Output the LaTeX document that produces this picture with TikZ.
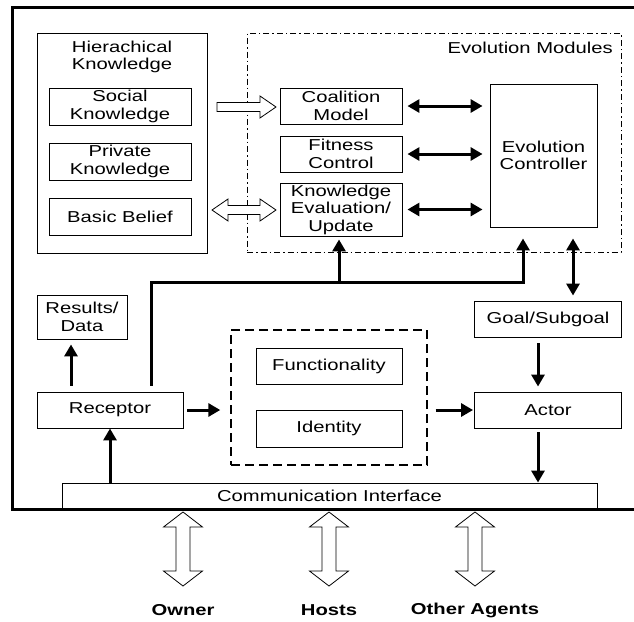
\documentclass[tikz,border=0pt]{standalone}
\usepackage{fontspec}
\setmainfont{Liberation Sans}[FakeStretch=1.28]
\usetikzlibrary{arrows.meta,calc}
\begin{document}
\begin{tikzpicture}[x=1pt,y=-1pt,
  every node/.style={font=\fontsize{15.8}{17.5}\selectfont, align=center, inner sep=0pt},
  box/.style={draw, line width=0.9pt, rectangle},
  thk/.style={line width=3pt},
  tip/.style={-{Triangle[length=12pt,width=13pt]}},
  dtip/.style={{Triangle[length=12pt,width=13pt]}-{Triangle[length=12pt,width=13pt]}},
  hollow/.style={draw, fill=white, line width=0.8pt, line join=miter},
  evobox/.style={draw, line width=0.8pt, dash pattern=on 6pt off 3pt on 1.5pt off 3pt},
  grpbox/.style={draw, line width=1.4pt, dash pattern=on 9pt off 5pt},
  lbl/.style={font=\fontsize{15.8}{17.5}\selectfont\bfseries}
]
\useasboundingbox (0,0) rectangle (634,621);
\fill[white] (0,0) rectangle (634,621);

% containers
\node[box, minimum width=170pt, minimum height=220pt] (hk) at (122,143) {};
\node (hklabel) at (122,57) {Hierachical\\Knowledge};
\node[evobox, minimum width=374pt, minimum height=219pt] (evo) at (434,142.5) {};
\node[anchor=east] (evolabel) at (613,48) {Evolution Modules};
\node[grpbox, minimum width=196pt, minimum height=135pt] (grp) at (329,397.5) {};

% knowledge boxes
\node[box, minimum width=142pt, minimum height=37pt] (social) at (120,106.5) {Social\\Knowledge};
\node[box, minimum width=142pt, minimum height=37pt] (private) at (120,161.5) {Private\\Knowledge};
\node[box, minimum width=142pt, minimum height=37pt] (basic) at (120,216.5) {Basic Belief};

% evolution modules
\node[box, minimum width=122pt, minimum height=36pt] (coal) at (341,106) {Coalition\\Model};
\node[box, minimum width=122pt, minimum height=36pt] (fit) at (341,154) {Fitness\\Control};
\node[box, minimum width=122pt, minimum height=53pt] (ke) at (341,209.5) {Knowledge\\Evaluation/\\Update};
\node[box, minimum width=107pt, minimum height=143pt] (ctrl) at (543.5,155.5) {Evolution\\Controller};

% lower part
\node[box, minimum width=90pt, minimum height=44pt] (results) at (82,317) {Results/\\Data};
\node[box, minimum width=146pt, minimum height=36pt] (receptor) at (110,410) {Receptor};
\node[box, minimum width=146pt, minimum height=36pt] (func) at (329,366) {Functionality};
\node[box, minimum width=146pt, minimum height=37pt] (ident) at (329,428.5) {Identity};
\node[box, minimum width=147pt, minimum height=36pt] (goal) at (548,319) {Goal/Subgoal};
\node[box, minimum width=147pt, minimum height=36pt] (actor) at (548,410) {Actor};
\node[box, minimum width=535pt, minimum height=26.5pt] (comm) at (329.5,496.25) {Communication Interface};

% outer frame
\draw[line width=3pt] (634,7.5) -- (12,7.5) -- (12,509.5) -- (634,509.5);

% helper coordinates
\coordinate (bus) at (0,282);
\coordinate (c71) at (71,0);
\coordinate (c151) at (151,0);
\coordinate (c339) at (339,0);
\coordinate (c523) at (523,0);
\coordinate (c538) at (538,0);
\coordinate (c573) at (573,0);

% module <-> controller arrows
\draw[thk,dtip,shorten <=5pt,shorten >=7pt] (coal.east) -- (coal.east -| ctrl.west);
\draw[thk,dtip,shorten <=5pt,shorten >=7pt] (fit.east) -- (fit.east -| ctrl.west);
\draw[thk,dtip,shorten <=5pt,shorten >=7pt] (ke.east) -- (ke.east -| ctrl.west);

% receptor bus to evolution modules
\draw[thk,tip,shorten <=6pt,shorten >=11pt] (receptor.north -| c151) -- (bus -| c151) -| (ctrl.south -| c523);
\draw[thk,tip,shorten >=3pt] (bus -| c339) -- (ke.south -| c339);

% controller <-> goal
\draw[thk,dtip,shorten <=11pt,shorten >=5pt] (ctrl.south -| c573) -- (goal.north -| c573);

% other black arrows
\draw[thk,tip,shorten <=6pt,shorten >=5pt] (receptor.north -| c71) -- (results.south -| c71);
\draw[thk,tip,shorten <=4pt,shorten >=10pt] (receptor.east) -- (receptor.east -| grp.west);
\draw[thk,tip,shorten <=8pt,shorten >=1pt] (grp.east |- actor.west) -- (actor.west);
\draw[thk,tip,shorten <=6pt,shorten >=5pt] (goal.south -| c538) -- (actor.north -| c538);
\draw[thk,tip,shorten <=4pt] (actor.south -| c538) -- (comm.north -| c538);
\draw[thk,tip] (comm.north -| receptor) -- (receptor.south);

% hollow arrows
\draw[hollow] (217,102.5) -- (260,102.5) -- (260,96) -- (276,107) -- (260,118) -- (260,111.5) -- (217,111.5) -- cycle;
\draw[hollow] (212,210) -- (228,199) -- (228,205.5) -- (260,205.5) -- (260,199) -- (276,210) -- (260,221) -- (260,214.5) -- (228,214.5) -- (228,221) -- cycle;
\foreach \c in {183,329,475}{
  \draw[hollow] (\c,512) -- (\c+19.5,527) -- (\c+7,527) -- (\c+7,571) -- (\c+19.5,571) -- (\c,586) -- (\c-19.5,571) -- (\c-7,571) -- (\c-7,527) -- (\c-19.5,527) -- cycle;
}

% bottom labels
\node[lbl] (owner) at (183,610) {Owner};
\node[lbl] (hosts) at (329,610) {Hosts};
\node[lbl] (others) at (475,610) {Other Agents};
\end{tikzpicture}
\end{document}
